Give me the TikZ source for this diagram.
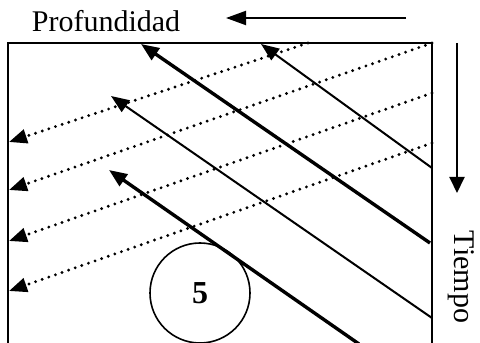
\documentclass[tikz,border=0pt]{standalone}
\usepackage{fontspec}
\setmainfont{Liberation Serif}
\usetikzlibrary{arrows.meta,positioning}

\begin{document}
\begin{tikzpicture}[x=1pt,y=1pt,
  tip/.style={-{Triangle[length=18pt,width=14pt]}},
  ray/.style={tip, line width=2pt},
  thk/.style={tip, line width=3.4pt},
  dot/.style={tip, line width=3.2pt, line cap=round, dash pattern=on 0pt off 7pt},
  lab/.style={font=\fontsize{30}{32}\selectfont, inner sep=0pt}]
\useasboundingbox (0,0) rectangle (480,343);
% frame (open at the bottom)
\draw[line width=2pt] (8,-2) -- (8,300) -- (432,300) -- (432,-2);
% axes
\coordinate (p0) at (406,325);
\coordinate (p1) at (226,325);
\coordinate (t0) at (457,300);
\coordinate (t1) at (457,150);
\draw[line width=2pt, -{Triangle[length=20pt,width=14pt]}] (p0) -- (p1);
\draw[line width=2pt, -{Triangle[length=16pt,width=15pt]}] (t0) -- (t1);
\node[lab, anchor=base] (prof) at (106,311) {Profundidad};
\node[lab, rotate=-90] (tiempo) at (461,66) {Tiempo};
% dotted reflections
\coordinate (d1a) at (308,300); \coordinate (d1b) at (9,201);
\coordinate (d2a) at (432,300); \coordinate (d2b) at (9,153);
\coordinate (d3a) at (432,250); \coordinate (d3b) at (9,102);
\coordinate (d4a) at (432,200); \coordinate (d4b) at (9,52);
\foreach \n in {1,...,4}
  \draw[dot] (d\n a) -- (d\n b);
% solid rays
\coordinate (s1a) at (432,175); \coordinate (s1b) at (261,299);
\coordinate (s2a) at (430,100); \coordinate (s2b) at (141,299);
\coordinate (s3a) at (432,25);  \coordinate (s3b) at (111,247);
\coordinate (s4a) at (359,-1);  \coordinate (s4b) at (109,173);
\draw[ray] (s1a) -- (s1b);
\draw[thk] (s2a) -- (s2b);
\draw[ray] (s3a) -- (s3b);
\draw[thk] (s4a) -- (s4b);
% circle
\node[draw, circle, line width=1.6pt, minimum size=100pt, inner sep=0pt,
      font=\fontsize{32}{34}\selectfont\bfseries] (five) at (200,50) {5};
\end{tikzpicture}
\end{document}
